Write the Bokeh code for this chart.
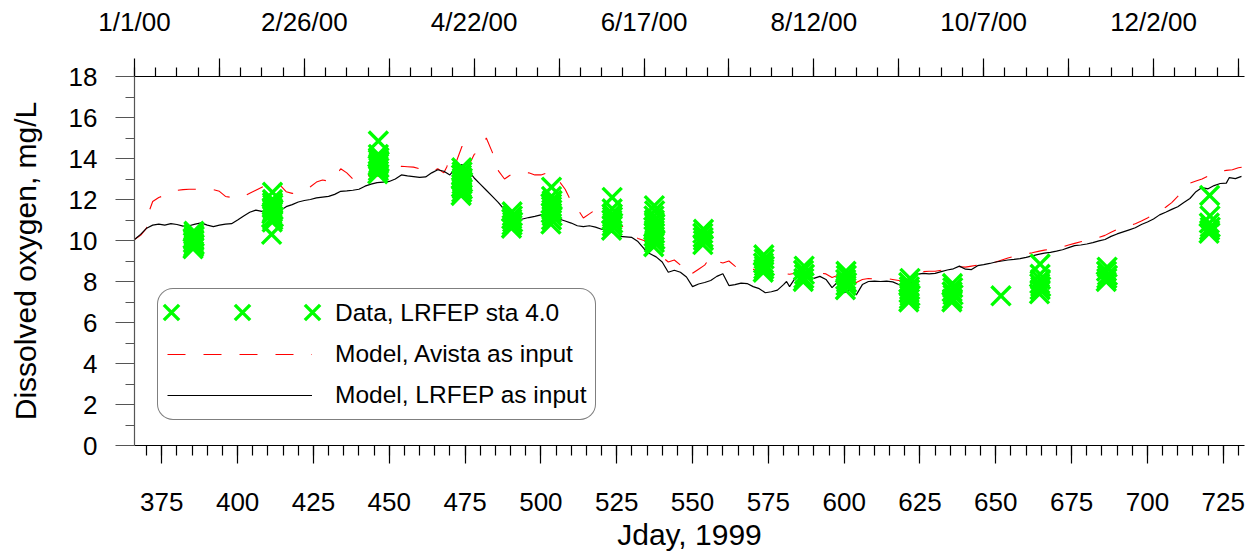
from bokeh.plotting import figure
from bokeh.models import Range1d, LinearAxis, FixedTicker, Legend, LegendItem, ColumnDataSource
from bokeh.embed import file_html
from bokeh.resources import INLINE

FONT = "Liberation Sans"

# Model, LRFEP boundary conditions as input: Jday (1999 basis) and DO, mg/L
lrfep_day = [366, 368, 370, 372, 374, 376, 378, 380, 382, 384, 386, 388, 390, 392, 394, 396, 398,
             400, 402, 404, 406, 408, 410, 412, 414, 416, 418, 420, 422, 424, 426, 428, 430, 432,
             434, 436, 438, 440, 442, 444, 446, 448, 450, 452, 454, 456, 458, 460, 462, 464, 466,
             468, 470, 472, 474, 476, 478, 480, 482, 484, 486, 488, 490, 492, 494, 496, 498, 500,
             502, 504, 506, 508, 510, 512, 514, 516, 518, 520, 522, 524, 526, 528, 530, 532, 534,
             536, 538, 540, 542, 544, 546, 548, 550, 552, 554, 556, 558, 560, 562, 564, 566, 568,
             570, 572, 574, 576, 578, 580, 581, 582, 584, 586, 588, 590, 592, 594, 596, 598, 600,
             602, 604, 606, 608, 610, 612, 614, 616, 618, 620, 622, 624, 626, 628, 630, 632, 634,
             636, 638, 640, 642, 644, 646, 648, 650, 652, 654, 656, 658, 660, 662, 664, 666, 668,
             670, 672, 674, 676, 678, 680, 682, 684, 686, 688, 690, 692, 694, 696, 698, 700, 702,
             704, 706, 708, 710, 712, 714, 716, 718, 720, 722, 724, 726, 727, 729, 731]
lrfep_do = [10.05, 10.3, 10.6, 10.75, 10.8, 10.75, 10.82, 10.78, 10.7, 10.72, 10.8, 10.86, 10.75,
            10.68, 10.75, 10.8, 10.82, 11.0, 11.2, 11.38, 11.48, 11.42, 11.35, 11.25, 11.45, 11.65,
            11.75, 11.88, 11.95, 12.0, 12.08, 12.12, 12.15, 12.25, 12.4, 12.42, 12.45, 12.5, 12.65,
            12.75, 12.82, 12.85, 12.88, 13.0, 13.2, 13.15, 13.12, 13.08, 13.1, 13.3, 13.45, 13.38,
            13.2, 13.55, 13.7, 13.42, 13.05, 12.75, 12.45, 12.15, 11.85, 11.5, 11.15, 10.98, 11.05,
            11.12, 11.18, 11.25, 11.3, 11.18, 11.05, 10.95, 10.85, 10.72, 10.68, 10.72, 10.65, 10.55,
            10.5, 10.35, 10.2, 10.18, 10.15, 9.95, 9.6, 9.35, 9.2, 8.95, 8.45, 8.55, 8.45, 8.22, 7.75,
            7.88, 7.95, 8.05, 8.25, 8.38, 7.8, 7.85, 7.92, 7.9, 7.75, 7.65, 7.45, 7.5, 7.58, 7.85, 8.0,
            7.75, 8.2, 8.42, 8.22, 8.15, 8.25, 8.1, 7.7, 8.0, 7.45, 7.6, 7.35, 7.85, 8.0, 8.02, 8.0,
            8.02, 7.98, 7.85, 7.82, 7.95, 8.35, 8.4, 8.37, 8.4, 8.48, 8.56, 8.62, 8.75, 8.6, 8.58,
            8.77, 8.82, 8.88, 8.95, 9.0, 9.05, 9.08, 9.12, 9.18, 9.25, 9.32, 9.38, 9.42, 9.48, 9.55,
            9.65, 9.75, 9.78, 9.83, 9.9, 9.98, 10.05, 10.2, 10.32, 10.42, 10.52, 10.62, 10.78, 10.9,
            11.05, 11.25, 11.38, 11.52, 11.65, 11.85, 12.05, 12.38, 12.58, 12.52, 12.68, 12.78, 12.8,
            13.07, 13.02, 13.13]

# Model, Avista boundary conditions as input
avista_day = [366, 368, 370, 371, 372, 374, 376, 378, 380, 382, 384, 386, 388, 390, 392, 394, 396,
              398, 400, 402, 404, 406, 408, 410, 412, 414, 416, 418, 420, 422, 424, 426, 428, 430,
              432, 434, 436, 438, 440, 442, 444, 446, 448, 450, 452, 454, 456, 458, 460, 462, 464,
              466, 468, 469, 470, 472, 474, 475, 476, 478, 480, 482, 484, 486, 488, 490, 492, 494,
              496, 498, 500, 502, 504, 506, 508, 510, 512, 514, 516, 518, 520, 522, 524, 526, 528,
              530, 532, 534, 536, 538, 540, 542, 544, 546, 548, 549, 550, 552, 554, 556, 558, 560,
              562, 564, 566, 568, 570, 572, 574, 576, 578, 580, 582, 584, 586, 588, 590, 592, 594,
              596, 598, 600, 602, 604, 606, 608, 610, 612, 614, 616, 618, 620, 622, 624, 626, 628,
              630, 632, 634, 636, 638, 640, 642, 644, 646, 648, 650, 652, 654, 656, 658, 660, 662,
              664, 666, 668, 670, 672, 674, 676, 678, 680, 682, 684, 686, 688, 690, 692, 694, 696,
              698, 700, 702, 704, 706, 708, 710, 712, 714, 716, 718, 720, 722, 724, 726, 728, 730, 732]
avista_do = [10.05, 10.25, 10.6, 11.5, 11.9, 12.1, 12.2, 12.35, 12.45, 12.48, 12.5, 12.5, 12.48,
             12.46, 12.48, 12.4, 12.15, 12.1, 12.05, 12.15, 12.3, 12.45, 12.6, 12.75, 12.9, 12.7,
             12.38, 12.3, 12.35, 12.48, 12.62, 12.85, 12.95, 12.9, 13.05, 13.5, 13.3, 13.0, 12.88,
             13.1, 13.2, 13.15, 13.1, 13.27, 13.5, 13.62, 13.6, 13.58, 13.5, 13.4, 13.35, 13.5, 13.3,
             13.6, 14.1, 13.8, 14.6, 13.9, 13.6, 14.2, 14.4, 15.0, 14.3, 13.4, 13.0, 13.2, 13.3,
             13.35, 13.3, 13.2, 13.2, 13.3, 13.1, 12.9, 12.5, 11.9, 11.55, 11.1, 11.3, 11.5, 11.4,
             11.2, 11.0, 10.8, 10.55, 10.35, 10.1, 10.0, 9.8, 9.5, 9.2, 8.95, 9.05, 8.8, 8.45, 8.28,
             8.4, 8.6, 8.8, 9.2, 9.0, 8.9, 9.0, 8.75, 8.6, 8.55, 8.6, 8.45, 8.38, 8.3, 8.35, 8.4,
             8.35, 8.4, 8.5, 8.5, 8.48, 8.42, 8.37, 8.2, 8.3, 8.0, 8.05, 7.95, 8.1, 8.15, 8.12, 8.15,
             8.15, 8.1, 8.05, 8.1, 8.2, 8.45, 8.48, 8.5, 8.5, 8.55, 8.62, 8.68, 8.72, 8.7, 8.75, 8.8,
             8.85, 8.9, 8.95, 9.05, 9.15, 9.22, 9.28, 9.34, 9.4, 9.47, 9.53, 9.58, 9.63, 9.69, 9.78,
             9.86, 9.94, 10.0, 10.07, 10.15, 10.25, 10.4, 10.54, 10.63, 10.72, 10.82, 10.95, 11.1,
             11.28, 11.45, 11.62, 11.85, 12.15, 12.55, 12.8, 12.9, 13.0, 13.15, 13.25, 13.38, 13.42,
             13.45, 13.55, 13.6]

# Field data, LRFEP station 4.0 (sonde surveys)
obs_day = [385.3, 385.5, 385.7, 385.4, 385.6, 385.5, 385.3, 385.7, 385.5, 385.6,
           411.2, 411.4, 411.6, 411.8, 411.3, 411.5, 411.7, 411.4, 411.6, 411.5, 411.5, 411.5,
           446.2, 446.4, 446.6, 446.3, 446.5, 446.7, 446.4, 446.6, 446.4, 446.4,
           473.7, 473.9, 474.1, 473.8, 474.0, 474.2, 473.9, 474.1, 473.8, 474.0, 473.9,
           490.3, 490.5, 490.7, 490.4, 490.6, 490.5,
           503.3, 503.5, 503.7, 503.4, 503.6, 503.5, 503.3, 503.7, 503.5, 503.5,
           523.3, 523.5, 523.7, 523.4, 523.6, 523.5, 523.5, 523.5,
           537.2, 537.4, 537.6, 537.3, 537.5, 537.4, 537.2, 537.6, 537.4, 537.3, 537.5, 537.4,
           553.4, 553.6, 553.5, 553.4, 553.6,
           573.3, 573.5, 573.7, 573.4, 573.6, 573.5,
           586.5, 586.7, 586.9, 586.6, 586.8,
           600.4, 600.6, 600.8, 600.5, 600.7, 600.6,
           621.3, 621.5, 621.7, 621.4, 621.6, 621.5, 621.3, 621.7,
           635.5, 635.7, 635.9, 635.6, 635.8, 635.7,
           651.7,
           664.4, 664.6, 664.8, 664.5, 664.7, 664.6, 664.6,
           686.4, 686.6, 686.8, 686.5, 686.7,
           720.3, 720.5, 720.7, 720.4, 720.6, 720.5]
obs_do = [9.6, 9.7, 9.8, 9.9, 10.0, 10.05, 10.1, 10.2, 10.3, 10.45,
          10.3, 10.9, 11.0, 11.15, 11.3, 11.4, 11.5, 11.6, 11.75, 11.85, 12.0, 12.35,
          13.25, 13.4, 13.55, 13.65, 13.75, 13.85, 13.95, 14.05, 14.2, 14.85,
          12.2, 12.35, 12.5, 12.6, 12.75, 12.85, 12.95, 13.05, 13.2, 13.35, 13.55,
          10.6, 10.75, 10.9, 11.05, 11.2, 11.4,
          10.8, 11.0, 11.2, 11.35, 11.5, 11.65, 11.8, 11.95, 12.15, 12.6,
          10.5, 10.7, 10.85, 11.0, 11.15, 11.3, 11.55, 12.1,
          9.7, 9.9, 10.05, 10.2, 10.35, 10.5, 10.65, 10.8, 11.0, 11.2, 11.45, 11.7,
          9.8, 10.0, 10.15, 10.35, 10.55,
          8.45, 8.6, 8.75, 8.9, 9.1, 9.3,
          8.0, 8.15, 8.35, 8.55, 8.75,
          7.6, 7.8, 7.95, 8.1, 8.3, 8.5,
          7.0, 7.15, 7.3, 7.45, 7.6, 7.75, 7.95, 8.15,
          7.0, 7.15, 7.35, 7.5, 7.7, 7.9,
          7.3,
          7.4, 7.6, 7.75, 7.9, 8.1, 8.35, 8.85,
          8.0, 8.15, 8.3, 8.5, 8.7,
          10.35, 10.5, 10.65, 10.85, 11.2, 12.2]

# Calendar labels for the upper axis (every 28 days, labelled every 56)
date_tick_days = [366, 394, 422, 450, 478, 506, 534, 562, 590, 618, 646, 674, 702, 730]
date_tick_labels = ["1/1/00", "", "2/26/00", "", "4/22/00", "", "6/17/00", "", "8/12/00", "",
                    "10/7/00", "", "12/2/00", ""]
jday_ticks = [375, 400, 425, 450, 475, 500, 525, 550, 575, 600, 625, 650, 675, 700, 725]
do_ticks = [0, 2, 4, 6, 8, 10, 12, 14, 16, 18]

p = figure(width=1256, height=553, x_range=Range1d(366, 732), y_range=Range1d(0, 18),
           output_backend="svg", toolbar_location=None,
           min_border_left=134, min_border_right=12, min_border_top=76, min_border_bottom=107)
p.outline_line_color = None
p.grid.visible = False
p.background_fill_color = "white"
p.border_fill_color = "white"


def style_axis(ax, color, major_out, minor_out, standoff):
    ax.axis_line_color = color
    ax.axis_line_width = 1.2
    ax.major_tick_line_color = color
    ax.minor_tick_line_color = color
    ax.major_tick_line_width = 1.2
    ax.minor_tick_line_width = 1.2
    ax.major_tick_in = 0
    ax.minor_tick_in = 0
    ax.major_tick_out = major_out
    ax.minor_tick_out = minor_out
    ax.major_label_text_font = FONT
    ax.major_label_text_font_size = "26px"
    ax.major_label_text_color = "black"
    ax.major_label_standoff = standoff
    ax.axis_label_text_font = FONT
    ax.axis_label_text_font_size = "30px"
    ax.axis_label_text_font_style = "normal"
    ax.axis_label_text_color = "black"


xax = p.xaxis[0]
xax.ticker = FixedTicker(ticks=jday_ticks, minor_ticks=list(range(370, 732, 5)))
xax.axis_label = "Jday, 1999"
style_axis(xax, "black", 18, 10, 29)
xax.axis_label_standoff = 4

yax = p.yaxis[0]
yax.ticker = FixedTicker(ticks=do_ticks, minor_ticks=list(range(1, 18, 2)))
yax.axis_label = "Dissolved oxygen, mg/L"
style_axis(yax, "#555555", 19, 9, 18)
yax.axis_label_standoff = 24

top = LinearAxis(ticker=FixedTicker(ticks=date_tick_days, minor_ticks=list(range(366, 732, 7))),
                 major_label_overrides=dict(zip(date_tick_days, date_tick_labels)))
style_axis(top, "black", 18, 9, 22)
p.add_layout(top, "above")

src_av = ColumnDataSource(dict(day=avista_day, do=avista_do))
src_lr = ColumnDataSource(dict(day=lrfep_day, do=lrfep_do))
src_obs = ColumnDataSource(dict(day=obs_day, do=obs_do))

r_av = p.line("day", "do", source=src_av, line_color="#ff0000", line_width=1.1, line_dash="18 18")
r_lr = p.line("day", "do", source=src_lr, line_color="black", line_width=1.2)
r_obs = p.scatter("day", "do", source=src_obs, marker="x", size=27, line_color="#00ff00",
                  line_width=3.4)

legend = Legend(items=[LegendItem(label="Data, LRFEP sta 4.0", renderers=[]),
                       LegendItem(label="Model, Avista as input", renderers=[r_av]),
                       LegendItem(label="Model, LRFEP as input", renderers=[r_lr])],
                location=(23, 25), glyph_width=145, glyph_height=30, spacing=11, padding=9,
                label_standoff=23, label_text_font=FONT, label_text_font_size="24.5px",
                label_text_color="black",
                border_line_color="black", border_line_width=1.2, background_fill_alpha=1,
                background_fill_color="white")
if "border_radius" in Legend.properties():
    legend.border_radius = 16
p.add_layout(legend, "center")

# three marker keys in a row for the data entry
for key_left in (10, 81, 151):
    key = Legend(items=[LegendItem(label="", renderers=[r_obs])], location=(key_left, 106),
                 glyph_width=54, glyph_height=54, padding=0, spacing=0, label_standoff=0,
                 border_line_color=None, background_fill_alpha=0, label_text_font_size="1px")
    p.add_layout(key, "center")

open("out.html", "w").write(file_html(p, INLINE))
